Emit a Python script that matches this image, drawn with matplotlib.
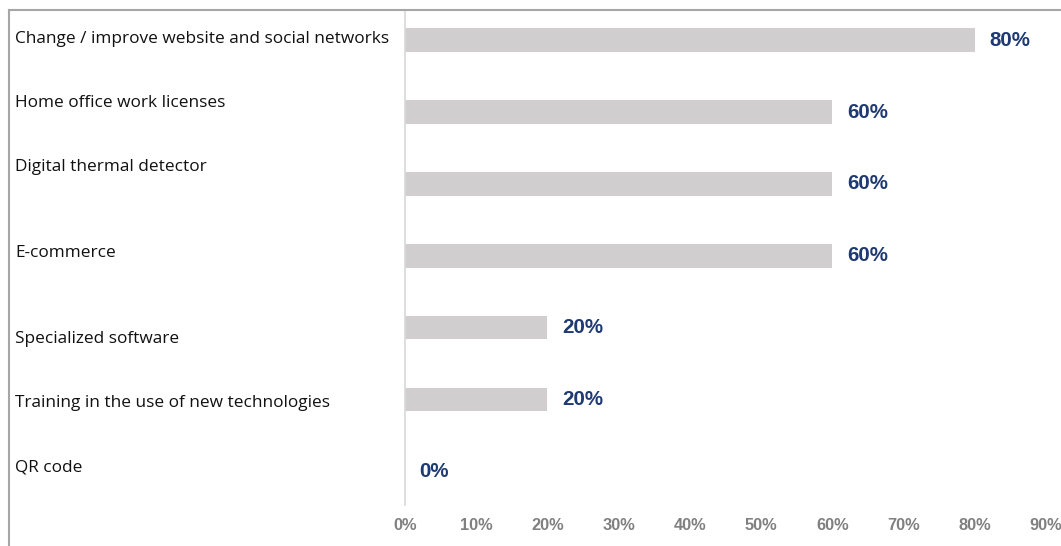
import matplotlib.pyplot as plt
from matplotlib.lines import Line2D

categories = [
    "Change / improve website and social networks",
    "Home office work licenses",
    "Digital thermal detector",
    "E-commerce",
    "Specialized software",
    "Training in the use of new technologies",
    "QR code",
]
values = [80, 60, 60, 60, 20, 20, 0]
# vertical position of each category caption, in figure pixels from the top
label_y_px = [39, 103, 167, 253, 339, 403, 467]
xticks = list(range(0, 100, 10))

W, H = 1061, 546
BAR_COLOR = "#d0cece"
VALUE_COLOR = "#1f3a73"
TICK_COLOR = "#808080"
FRAME_COLOR = "#a6a6a6"
narrow = ["Liberation Sans Narrow", "Liberation Sans", "DejaVu Sans"]

fig = plt.figure(figsize=(W / 100, H / 100), dpi=100)
ax = fig.add_axes([405 / W, 1 - 505 / H, (1046 - 405) / W, (505 - 10) / H])

y = list(range(len(categories)))
ax.barh(y, values, height=0.33, color=BAR_COLOR, zorder=2)

for yi, v in zip(y, values):
    ax.annotate(f"{v}%", (v, yi), xytext=(10.5, 0), textcoords="offset points",
                va="center", ha="left", color=VALUE_COLOR, fontsize=14.8,
                fontweight="bold", family=narrow)

ax.set_xlim(0, 90)
ax.set_ylim(6.47, -0.42)
ax.set_xticks(xticks)
ax.set_xticklabels([f"{t}%" for t in xticks], color=TICK_COLOR, fontsize=11.8,
                   fontweight="bold", family=narrow)
ax.tick_params(axis="x", length=0, pad=9)
ax.set_yticks([])
for side in ["top", "right", "bottom"]:
    ax.spines[side].set_visible(False)
ax.spines["left"].set_color("#d9d9d9")
ax.spines["left"].set_linewidth(1.2)

# category captions on the left
for name, py in zip(categories, label_y_px):
    fig.text(15 / W, 1 - py / H, name, ha="left", va="center", fontsize=12.4,
             family=["Open Sans", "DejaVu Sans"], color="#111111")

# outer frame (top and left edges)
fig.add_artist(Line2D([9 / W, 1], [1 - 10 / H, 1 - 10 / H], color=FRAME_COLOR,
                      lw=1.5, transform=fig.transFigure))
fig.add_artist(Line2D([9 / W, 9 / W], [0, 1 - 10 / H], color=FRAME_COLOR,
                      lw=1.5, transform=fig.transFigure))

fig.savefig("out.png", dpi=100)
